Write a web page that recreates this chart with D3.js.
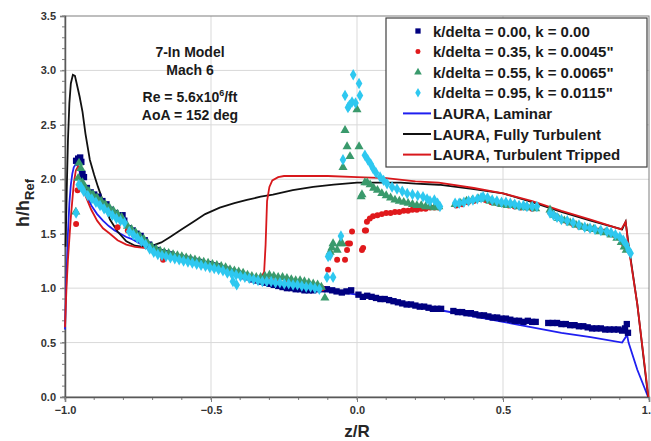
<!DOCTYPE html>
<html>
<head>
<meta charset="utf-8">
<script src="https://cdn.jsdelivr.net/npm/d3@7"></script>
<style>
body { margin: 0; background: #fff; }
text { font-family: "Liberation Sans", Arial, sans-serif; font-weight: bold; }
</style>
</head>
<body>
<script>
// plot box, Excel style
var margin = {top: 16, right: 2, bottom: 44, left: 65}
  , W = 651, H = 441
  , width = W - margin.left - margin.right
  , height = H - margin.top - margin.bottom;

// tick values
var xTicks = [-1.0, -0.5, 0.0, 0.5, 1.0];
var yTicks = [0.0, 0.5, 1.0, 1.5, 2.0, 2.5, 3.0, 3.5];

// measured data, [z/R, h/hRef]
var navy = [
[-0.962,2.17],[-0.955,2.19],[-0.948,2.20],[-0.944,2.16],[-0.940,2.05],[-0.935,2.02],[-0.925,1.92],[-0.912,1.88],[-0.900,1.86],[-0.886,1.84],
[-0.872,1.80],[-0.858,1.77],[-0.843,1.72],[-0.828,1.69],[-0.814,1.66],[-0.803,1.67],[-0.797,1.62],[-0.781,1.55],[-0.768,1.53],[-0.755,1.50],
[-0.741,1.48],[-0.727,1.44],[-0.712,1.40],[-0.697,1.37],[-0.682,1.35],[-0.666,1.33],[-0.651,1.32],[-0.636,1.31],[-0.620,1.29],[-0.603,1.28],
[-0.588,1.27],[-0.572,1.26],[-0.557,1.25],[-0.541,1.24],[-0.526,1.22],[-0.511,1.22],[-0.495,1.21],[-0.480,1.20],[-0.465,1.18],[-0.450,1.17],
[-0.435,1.15],[-0.420,1.14],[-0.405,1.13],[-0.390,1.11],[-0.375,1.10],[-0.360,1.08],[-0.345,1.07],[-0.330,1.06],[-0.315,1.05],[-0.300,1.04],
[-0.285,1.03],[-0.270,1.02],[-0.255,1.01],[-0.240,1.00],[-0.225,1.00],[-0.210,0.99],[-0.195,0.99],[-0.180,0.98],[-0.165,0.98],[-0.150,0.98],
[-0.135,0.99],[-0.118,0.99],[-0.103,0.99],[-0.085,0.98],[-0.070,0.97],[-0.052,0.96],[-0.036,0.97],[-0.020,0.98],[0.005,0.94],[0.020,0.92],
[0.035,0.93],[0.050,0.92],[0.065,0.91],[0.080,0.90],[0.095,0.90],[0.110,0.89],[0.125,0.88],[0.140,0.87],[0.155,0.86],[0.170,0.85],
[0.185,0.85],[0.200,0.84],[0.215,0.83],[0.230,0.83],[0.245,0.82],[0.260,0.81],[0.275,0.81],[0.288,0.81],[0.330,0.79],[0.345,0.78],
[0.360,0.78],[0.375,0.77],[0.390,0.77],[0.405,0.76],[0.420,0.75],[0.435,0.75],[0.450,0.74],[0.465,0.73],[0.480,0.73],[0.495,0.72],
[0.510,0.72],[0.525,0.71],[0.540,0.70],[0.555,0.70],[0.570,0.69],[0.585,0.70],[0.600,0.69],[0.612,0.69],[0.655,0.68],[0.670,0.68],
[0.685,0.68],[0.700,0.67],[0.715,0.67],[0.730,0.66],[0.745,0.66],[0.760,0.65],[0.775,0.65],[0.790,0.64],[0.805,0.63],[0.820,0.63],
[0.835,0.63],[0.850,0.62],[0.865,0.62],[0.880,0.62],[0.895,0.62],[0.908,0.61],[0.918,0.63],[0.924,0.67],[0.928,0.59]
];
var red = [
[-0.962,1.59],[-0.957,1.90],[-0.945,1.92],[-0.930,1.88],[-0.915,1.84],[-0.900,1.81],[-0.885,1.78],[-0.870,1.75],[-0.855,1.72],[-0.840,1.69],
[-0.825,1.66],[-0.820,1.56],[-0.805,1.62],[-0.785,1.53],[-0.765,1.49],[-0.745,1.45],[-0.725,1.41],[-0.705,1.37],[-0.685,1.33],[-0.664,1.26],
[-0.645,1.30],[-0.620,1.28],[-0.595,1.26],[-0.570,1.25],[-0.545,1.23],[-0.520,1.21],[-0.495,1.20],[-0.470,1.18],[-0.445,1.16],[-0.420,1.14],
[-0.395,1.12],[-0.370,1.10],[-0.345,1.08],[-0.320,1.07],[-0.295,1.07],[-0.270,1.06],[-0.245,1.05],[-0.220,1.04],[-0.195,1.03],[-0.170,1.02],
[-0.145,1.01],[-0.120,1.00],
[-0.099,1.17],[-0.092,1.32],[-0.068,1.26],[-0.041,1.26],[-0.034,1.35],[-0.031,1.41],[-0.024,1.41],[-0.017,1.52],[0.017,1.35],[0.021,1.37],
[0.027,1.53],[0.031,1.53],[0.034,1.61],[0.044,1.64],[0.055,1.66],[0.070,1.67],[0.085,1.68],[0.100,1.69],[0.115,1.69],[0.130,1.70],
[0.145,1.70],[0.160,1.71],[0.175,1.71],[0.190,1.72],[0.205,1.72],[0.220,1.73],[0.235,1.73],[0.250,1.74],[0.265,1.74],[0.280,1.74],
[0.340,1.76],[0.360,1.77],[0.380,1.79],[0.400,1.80],[0.420,1.82],[0.440,1.81],[0.460,1.79],[0.480,1.78],[0.500,1.77],[0.520,1.76],
[0.540,1.75],[0.560,1.74],[0.580,1.74],[0.600,1.73],[0.660,1.70],[0.680,1.66],[0.700,1.63],[0.720,1.61],[0.740,1.59],[0.760,1.57],
[0.780,1.56],[0.800,1.54],[0.820,1.53],[0.840,1.52],[0.860,1.51],[0.880,1.49],[0.900,1.46],[0.915,1.40],[0.925,1.36]
];
var green = [
[-0.963,1.70],[-0.955,2.01],[-0.952,2.15],[-0.946,2.10],[-0.940,1.97],[-0.932,1.93],[-0.918,1.89],[-0.904,1.86],[-0.890,1.83],[-0.876,1.80],
[-0.862,1.77],[-0.848,1.74],[-0.834,1.71],[-0.820,1.68],[-0.806,1.65],[-0.786,1.57],[-0.772,1.54],[-0.758,1.51],[-0.744,1.48],[-0.730,1.45],
[-0.716,1.41],[-0.702,1.38],[-0.688,1.36],[-0.674,1.34],[-0.660,1.33],[-0.645,1.32],[-0.630,1.31],[-0.615,1.30],[-0.600,1.29],[-0.585,1.28],
[-0.570,1.27],[-0.555,1.26],[-0.540,1.25],[-0.525,1.24],[-0.510,1.23],[-0.495,1.22],[-0.480,1.21],[-0.465,1.20],[-0.450,1.19],[-0.435,1.17],
[-0.420,1.16],[-0.405,1.15],[-0.390,1.14],[-0.375,1.12],[-0.360,1.11],[-0.345,1.10],[-0.330,1.10],[-0.315,1.11],[-0.300,1.12],[-0.285,1.11],
[-0.270,1.10],[-0.255,1.10],[-0.240,1.09],[-0.225,1.08],[-0.210,1.07],[-0.195,1.07],[-0.180,1.06],[-0.165,1.05],[-0.150,1.04],[-0.135,1.03],
[-0.122,1.01],[-0.110,0.91],
[-0.092,1.33],[-0.086,1.37],[-0.082,1.41],[-0.068,1.35],[-0.058,1.41],[-0.051,1.41],[-0.048,2.11],[-0.041,2.45],[-0.034,2.30],[-0.024,2.21],
[0.000,2.64],[0.007,2.30],[0.014,1.84],[0.017,1.86],
[0.027,1.97],[0.035,1.97],[0.045,1.95],[0.057,1.92],[0.070,1.90],[0.085,1.87],[0.100,1.85],[0.115,1.83],[0.130,1.81],[0.145,1.80],
[0.160,1.79],[0.175,1.78],[0.190,1.77],[0.205,1.76],[0.220,1.76],[0.235,1.75],[0.250,1.75],[0.265,1.74],[0.280,1.75],
[0.336,1.77],[0.355,1.78],[0.375,1.80],[0.395,1.81],[0.415,1.82],[0.435,1.82],[0.455,1.80],[0.475,1.78],[0.495,1.77],[0.515,1.76],
[0.535,1.76],[0.555,1.75],[0.575,1.74],[0.595,1.74],[0.612,1.73],
[0.661,1.72],[0.675,1.67],[0.690,1.64],[0.710,1.62],[0.730,1.60],[0.750,1.58],[0.770,1.56],[0.790,1.55],[0.810,1.54],[0.830,1.52],
[0.850,1.51],[0.870,1.49],[0.890,1.46],[0.905,1.42],[0.915,1.38],[0.922,1.35]
];
var cyan = [
[-0.962,1.69],[-0.953,1.95],[-0.945,1.93],[-0.936,1.89],[-0.922,1.85],[-0.908,1.82],[-0.894,1.79],[-0.880,1.76],[-0.866,1.73],[-0.852,1.70],
[-0.838,1.67],[-0.824,1.64],[-0.810,1.62],[-0.796,1.60],[-0.780,1.52],[-0.766,1.49],[-0.752,1.46],[-0.738,1.43],[-0.724,1.40],[-0.710,1.36],
[-0.696,1.33],[-0.682,1.31],[-0.668,1.30],[-0.654,1.29],[-0.639,1.28],[-0.624,1.27],[-0.609,1.26],[-0.594,1.25],[-0.579,1.24],[-0.564,1.23],
[-0.549,1.22],[-0.534,1.21],[-0.519,1.20],[-0.504,1.19],[-0.489,1.18],[-0.474,1.17],[-0.459,1.16],[-0.444,1.14],[-0.429,1.13],[-0.414,1.12],
[-0.399,1.11],[-0.384,1.10],[-0.369,1.09],[-0.354,1.08],[-0.339,1.07],[-0.324,1.06],[-0.309,1.06],[-0.294,1.06],[-0.279,1.05],[-0.264,1.05],
[-0.249,1.04],[-0.234,1.04],[-0.219,1.03],[-0.204,1.03],[-0.189,1.02],[-0.174,1.01],[-0.159,1.01],[-0.144,1.00],[-0.129,0.99],[-0.425,1.06],
[-0.412,1.03],
[-0.103,1.10],[-0.082,1.10],[-0.099,1.29],[-0.092,1.30],[-0.055,1.48],[-0.048,2.18],[-0.041,2.77],[-0.031,2.66],[-0.026,2.68],[-0.017,2.71],
[-0.013,2.96],[-0.005,2.70],[0.007,2.88],[0.010,2.77],
[0.027,2.22],[0.037,2.18],[0.047,2.14],[0.055,2.10],[0.065,2.06],[0.079,2.02],[0.091,1.99],[0.103,1.96],[0.120,1.93],[0.137,1.91],
[0.155,1.89],[0.172,1.87],[0.190,1.86],[0.208,1.85],[0.226,1.84],[0.240,1.82],[0.250,1.80],[0.265,1.81],[0.276,1.78],[0.284,1.75],
[0.336,1.78],[0.350,1.78],[0.366,1.79],[0.382,1.80],[0.397,1.81],[0.412,1.82],[0.425,1.83],[0.432,1.84],[0.447,1.83],[0.463,1.81],
[0.479,1.80],[0.495,1.79],[0.510,1.79],[0.525,1.78],[0.540,1.77],[0.555,1.76],[0.570,1.76],[0.582,1.75],[0.600,1.75],[0.616,1.75],
[0.661,1.69],[0.673,1.67],[0.685,1.65],[0.700,1.63],[0.720,1.62],[0.740,1.60],[0.760,1.58],[0.780,1.56],[0.798,1.55],[0.815,1.54],
[0.835,1.53],[0.856,1.52],[0.870,1.51],[0.885,1.49],[0.900,1.47],[0.912,1.44],[0.922,1.40],[0.930,1.35],[0.937,1.32]
];

// LAURA predictions
var lauraLaminar = [
[-1.000,0.62],[-0.995,1.10],[-0.990,1.50],[-0.985,1.78],[-0.980,1.95],[-0.975,2.05],[-0.970,2.11],[-0.963,2.14],[-0.955,2.12],[-0.945,2.02],
[-0.930,1.88],[-0.910,1.76],[-0.890,1.68],[-0.870,1.62],[-0.850,1.57],[-0.830,1.53],[-0.810,1.50],[-0.790,1.47],[-0.770,1.45],[-0.750,1.42],
[-0.730,1.39],[-0.710,1.37],[-0.690,1.35],[-0.650,1.32],[-0.600,1.28],[-0.550,1.24],[-0.500,1.21],[-0.450,1.17],[-0.400,1.13],[-0.350,1.09],
[-0.300,1.06],[-0.250,1.03],[-0.200,1.01],[-0.150,0.99],[-0.100,0.97],[-0.050,0.96],[0.000,0.94],[0.100,0.89],[0.200,0.84],[0.300,0.79],
[0.400,0.74],[0.500,0.69],[0.600,0.64],[0.700,0.59],[0.800,0.55],[0.908,0.50],[0.925,0.57],[0.930,0.50],[0.960,0.25],[0.997,0.00]
];
var lauraTurb = [
[-0.998,1.38],[-0.994,1.90],[-0.990,2.35],[-0.985,2.70],[-0.980,2.88],[-0.973,2.96],[-0.966,2.95],[-0.960,2.88],[-0.950,2.76],[-0.940,2.62],
[-0.930,2.42],[-0.915,2.18],[-0.900,2.04],[-0.887,1.93],[-0.865,1.76],[-0.846,1.63],[-0.820,1.52],[-0.790,1.43],[-0.760,1.39],[-0.730,1.38],
[-0.700,1.39],[-0.670,1.42],[-0.640,1.47],[-0.600,1.54],[-0.560,1.61],[-0.520,1.68],[-0.470,1.74],[-0.420,1.78],[-0.377,1.81],[-0.330,1.84],
[-0.288,1.86],[-0.220,1.90],[-0.150,1.93],[-0.080,1.95],[0.000,1.97],[0.080,1.97],[0.150,1.97],[0.200,1.96],[0.280,1.95],[0.400,1.91],
[0.500,1.87],[0.600,1.79],[0.700,1.70],[0.800,1.62],[0.908,1.54],[0.920,1.61],[0.930,1.40],[0.960,0.85],[0.997,0.00]
];
var lauraTrip = [
[-1.000,0.64],[-0.995,1.00],[-0.990,1.26],[-0.980,1.65],[-0.970,1.96],[-0.963,2.08],[-0.955,2.12],[-0.948,2.10],[-0.940,1.98],[-0.930,1.85],
[-0.910,1.72],[-0.890,1.62],[-0.870,1.55],[-0.846,1.50],[-0.820,1.44],[-0.790,1.40],[-0.760,1.38],[-0.730,1.37],[-0.700,1.36],[-0.650,1.32],
[-0.600,1.28],[-0.550,1.24],[-0.500,1.21],[-0.450,1.17],[-0.400,1.13],[-0.350,1.10],[-0.330,1.09],[-0.318,1.15],[-0.313,1.40],[-0.308,1.80],
[-0.300,1.93],[-0.290,1.99],[-0.270,2.02],[-0.250,2.03],[-0.200,2.03],[-0.100,2.03],[0.000,2.02],[0.100,2.01],[0.200,1.98],[0.280,1.97],
[0.400,1.92],[0.500,1.87],[0.600,1.80],[0.700,1.71],[0.800,1.63],[0.905,1.54],[0.920,1.61],[0.930,1.38],[0.960,0.85],[0.998,0.00]
];

var series = [
  {name: "k/delta = 0.00, k = 0.00",    data: navy,  color: "#000080", sym: d3.symbolSquare,   size: 40},
  {name: "k/delta = 0.35, k = 0.0045\"", data: red,   color: "#e0191c", sym: d3.symbolCircle,   size: 28},
  {name: "k/delta = 0.55, k = 0.0065\"", data: green, color: "#3a9a6c", sym: d3.symbolTriangle, size: 36},
  {name: "k/delta = 0.95, k = 0.0115\"", data: cyan,  color: "#2ec8f0", sym: d3.symbolDiamond,  size: 38}
];
var lines = [
  {name: "LAURA, Laminar",            data: lauraLaminar, color: "#1f1ff0"},
  {name: "LAURA, Fully Turbulent",    data: lauraTurb,    color: "#111111"},
  {name: "LAURA, Turbulent Tripped",  data: lauraTrip,    color: "#d8181c"}
];

var svg = d3.select("body").append("svg")
    .attr("width", W)
    .attr("height", H);

var g = svg.append("g")
    .attr("transform", "translate(" + margin.left + "," + margin.top + ")");

var x = d3.scaleLinear().domain([-1, 1]).range([0, width]);
var y = d3.scaleLinear().domain([0, 3.5]).range([height, 0]);

// gridlines
g.append("g").selectAll("line")
  .data(yTicks.slice(1, -1))
  .enter().append("line")
    .attr("x1", 0).attr("x2", width)
    .attr("y1", function(d) { return y(d); })
    .attr("y2", function(d) { return y(d); })
    .attr("stroke", "#d9d9d9");
g.append("g").selectAll("line")
  .data(xTicks.slice(1, -1))
  .enter().append("line")
    .attr("y1", 0).attr("y2", height)
    .attr("x1", function(d) { return x(d); })
    .attr("x2", function(d) { return x(d); })
    .attr("stroke", "#d9d9d9");

// frame top/right
g.append("rect")
    .attr("width", width).attr("height", height)
    .attr("fill", "none")
    .attr("stroke", "#7f7f7f");

// minor ticks
var minorY = d3.range(0, 3.501, 0.1);
var minorX = d3.range(-1, 1.001, 0.1);
g.append("g").selectAll("line")
  .data(minorY).enter().append("line")
    .attr("x1", -3).attr("x2", 0)
    .attr("y1", function(d) { return y(d); })
    .attr("y2", function(d) { return y(d); })
    .attr("stroke", "#7f7f7f");
g.append("g").selectAll("line")
  .data(minorX).enter().append("line")
    .attr("y1", height).attr("y2", height + 3)
    .attr("x1", function(d) { return x(d); })
    .attr("x2", function(d) { return x(d); })
    .attr("stroke", "#7f7f7f");

// axes
var yAxis = g.append("g")
    .call(d3.axisLeft(y).tickValues(yTicks).tickFormat(d3.format(".1f")).tickSizeOuter(0).tickSize(5).tickPadding(4));
var xAxis = g.append("g")
    .attr("transform", "translate(0," + height + ")")
    .call(d3.axisBottom(x).tickValues(xTicks).tickFormat(d3.format(".1f")).tickSizeOuter(0).tickSize(5).tickPadding(4));
[yAxis, xAxis].forEach(function(a) {
  a.select(".domain").attr("stroke", "#595959").attr("stroke-width", 1.5);
  a.selectAll(".tick line").attr("stroke", "#7f7f7f");
  a.selectAll("text")
    .attr("fill", "#333333")
    .style("font-size", "11px")
    .style("font-family", "'Liberation Sans', Arial, sans-serif")
    .style("font-weight", "bold");
});

// LAURA curves
var line = d3.line()
    .x(function(d) { return x(d[0]); })
    .y(function(d) { return y(d[1]); });

g.selectAll(".laura")
  .data(lines)
  .enter().append("path")
    .attr("class", "laura")
    .attr("d", function(d) { return line(d.data); })
    .attr("fill", "none")
    .attr("stroke", function(d) { return d.color; })
    .attr("stroke-width", 1.8);

// measured markers
series.forEach(function(s) {
  var sym = d3.symbol().type(s.sym).size(s.size);
  g.append("g").selectAll("path")
    .data(s.data)
    .enter().append("path")
      .attr("d", sym)
      .attr("transform", function(d) { return "translate(" + x(d[0]) + "," + y(d[1]) + ")"; })
      .attr("fill", s.color);
});

// annotation
var note = svg.append("text")
    .attr("text-anchor", "middle")
    .attr("fill", "#1a1a1a")
    .style("font-size", "14px");
note.append("tspan").attr("x", 190).attr("y", 57).text("7-In Model");
note.append("tspan").attr("x", 190).attr("y", 75).text("Mach 6");
var re = note.append("tspan").attr("x", 190).attr("y", 102);
re.append("tspan").text("Re = 5.6x10");
re.append("tspan").attr("dy", -6).style("font-size", "9px").text("6");
re.append("tspan").attr("dy", 6).text("/ft");
note.append("tspan").attr("x", 190).attr("y", 120).text("AoA = 152 deg");

// axis titles
svg.append("text")
    .attr("x", margin.left + x(0))
    .attr("y", 437)
    .attr("text-anchor", "middle")
    .attr("fill", "#262626")
    .style("font-size", "17px")
    .text("z/R");

var yt = svg.append("text")
    .attr("transform", "translate(29,203) rotate(-90)")
    .attr("text-anchor", "middle")
    .attr("fill", "#262626")
    .style("font-size", "18px");
yt.append("tspan").text("h/h");
yt.append("tspan").attr("dy", 5).style("font-size", "13px").text("Ref");

// legend
var lg = svg.append("g").attr("transform", "translate(386,18)");
lg.append("rect")
    .attr("width", 261).attr("height", 149)
    .attr("fill", "#fff")
    .attr("stroke", "#404040")
    .attr("stroke-width", 1.2);

var rowH = 20.6;
series.forEach(function(s, i) {
  var cy = 13 + i * rowH;
  lg.append("path")
    .attr("d", d3.symbol().type(s.sym).size(s.size * 0.7)())
    .attr("transform", "translate(32," + cy + ")")
    .attr("fill", s.color);
  lg.append("text")
    .attr("x", 47).attr("y", cy + 5.5)
    .attr("fill", "#1a1a1a")
    .style("font-size", "15px")
    .text(s.name);
});
lines.forEach(function(l, i) {
  var cy = 13 + (i + 4) * rowH;
  lg.append("line")
    .attr("x1", 17).attr("x2", 45)
    .attr("y1", cy).attr("y2", cy)
    .attr("stroke", l.color)
    .attr("stroke-width", 2);
  lg.append("text")
    .attr("x", 47).attr("y", cy + 5.5)
    .attr("fill", "#1a1a1a")
    .style("font-size", "15px")
    .text(l.name);
});
</script>
</body>
</html>
